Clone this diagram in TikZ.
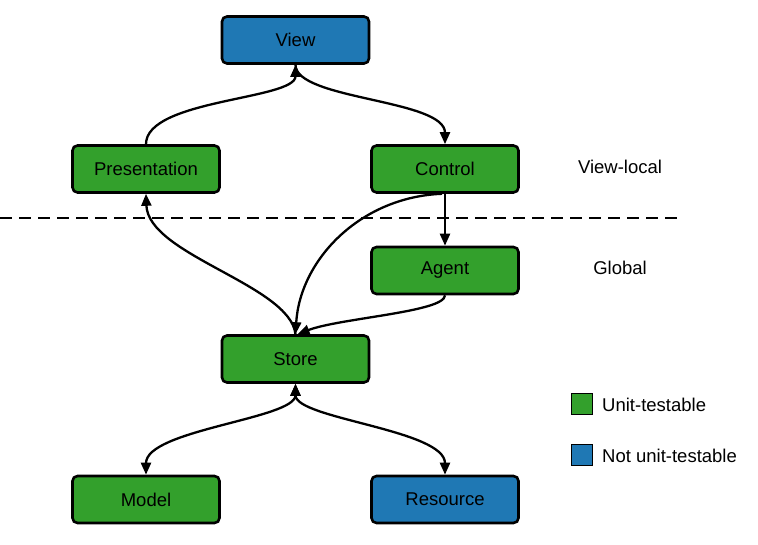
\documentclass[tikz,border=0pt]{standalone}
\usepackage{fontspec}
\setmainfont{Liberation Sans}
\usetikzlibrary{arrows.meta,calc}
\definecolor{ugreen}{HTML}{33A02C}
\definecolor{ublue}{HTML}{1F78B4}
\begin{document}
\begin{tikzpicture}[x=1pt,y=-1pt,
  box/.style={draw=black,line width=2.6pt,rounded corners=5pt,minimum width=147pt,minimum height=47pt,inner sep=0pt,font=\fontsize{18.5}{21}\selectfont},
  gbox/.style={box,fill=ugreen},
  bbox/.style={box,fill=ublue},
  tip/.style={Triangle[length=12pt,width=10pt]},
  conn/.style={line width=2.3pt,-{Triangle[length=12pt,width=10pt]}},
  biconn/.style={line width=2.3pt,{Triangle[length=12pt,width=10pt]}-{Triangle[length=12pt,width=10pt]}},
  lbl/.style={font=\fontsize{18.5}{21}\selectfont,inner sep=0pt},
  swatch/.style={draw=black,line width=1.5pt,minimum width=21pt,minimum height=21pt,inner sep=0pt}
]
\useasboundingbox (0,0) rectangle (758,545);
\node[bbox] (view) at (295.5,40) {View};
\node[gbox] (pres) at (146,169) {Presentation};
\node[gbox] (ctrl) at (445,169) {Control};
\node[gbox] (agent) at (445,270.5) {Agent};
\node[gbox] (store) at (295.5,359) {Store};
\node[gbox] (model) at (146,499.5) {Model};
\node[bbox] (res) at (445,499.5) {Resource};

\coordinate (dl) at (0,218);
\coordinate (dr) at (680,218);
\draw[line width=2.4pt,dash pattern=on 12pt off 7pt] (dl) -- (dr);

\node[lbl] (vl) at (620,167) {View-local};
\node[lbl] (gl) at (620,268) {Global};

\node[swatch,fill=ugreen] (s1) at (582,404) {};
\node[lbl,anchor=west] (t1) at (602,405) {Unit-testable};
\node[swatch,fill=ublue] (s2) at (582,455) {};
\node[lbl,anchor=west] (t2) at (602,456) {Not unit-testable};

\draw[conn] (pres.north) .. controls ($(pres.north)+(0,-45)$) and ($(view.south)+(0,35)$) .. (view.south);
\draw[conn] (view.south) .. controls ($(view.south)+(0,35)$) and ($(ctrl.north)+(0,-45)$) .. (ctrl.north);
\draw[conn] (ctrl.south) -- (agent.north);
\draw[conn] ($(ctrl.south)+(-3,0)$) .. controls (360,197) and (300,260) .. (store.north);
\draw[conn] (agent.south) .. controls (445,312) and (340,318) .. ($(store.north)+(2,0)$);
\draw[conn] (store.north) .. controls (290,285) and (148,255) .. (pres.south);
\draw[biconn] (store.south) .. controls ($(store.south)+(0,35)$) and ($(model.north)+(0,-45)$) .. (model.north);
\draw[biconn] (store.south) .. controls ($(store.south)+(0,35)$) and ($(res.north)+(0,-45)$) .. (res.north);
\end{tikzpicture}
\end{document}
